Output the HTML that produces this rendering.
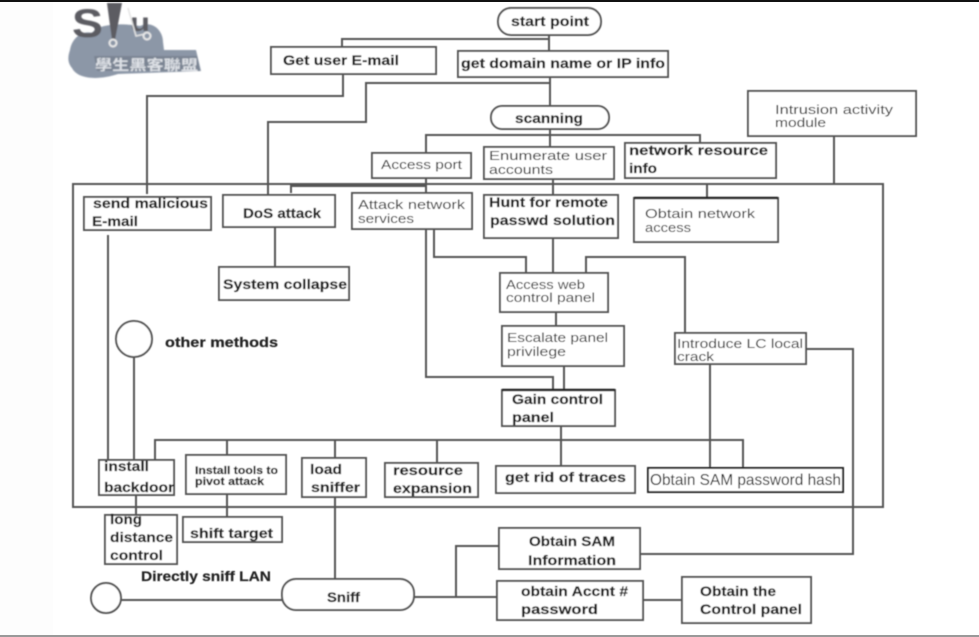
<!DOCTYPE html>
<html>
<head>
<meta charset="utf-8">
<style>
html,body{margin:0;padding:0;background:#fff;width:979px;height:637px;overflow:hidden}
svg{display:block}
text{font-family:"Liberation Sans","Noto Sans CJK SC",sans-serif;fill:#222}
.b{font-weight:bold;font-size:14px;stroke:#222;stroke-width:.2}
.n{font-size:13px;fill:#333}
.box{fill:#fff;stroke:#555;stroke-width:2}
.l{fill:none;stroke:#555;stroke-width:2}
</style>
</head>
<body>
<svg width="979" height="637" viewBox="0 0 979 637" xmlns="http://www.w3.org/2000/svg">
<defs><filter id="s" filterUnits="userSpaceOnUse" x="0" y="0" width="979" height="637"><feGaussianBlur stdDeviation="0.45"/></filter>
<filter id="s2" filterUnits="userSpaceOnUse" x="0" y="0" width="979" height="637"><feGaussianBlur stdDeviation="0.7"/></filter></defs>
<rect x="0" y="0" width="979" height="637" fill="#fff"/>
<rect x="0" y="0" width="53" height="637" fill="#fdfdfd"/>
<!-- logo -->
<g filter="url(#s2)">
<path d="M70 50 C72 38 82 30 92 33 C100 22 128 24 140 26 C152 20 163 30 163 42 L164 50 L196 50 L201 71 L118 74 C100 80 78 80 72 68 C67 62 68 56 70 50Z" fill="#8c97a7"/>
<path d="M94 56 h103 l3 15 h-103z" fill="#7a8493"/>
<text x="95" y="70" font-size="14" font-weight="bold" style="fill:#dfe2e7" textLength="103" lengthAdjust="spacingAndGlyphs">學生黑客聯盟</text>
<text x="72" y="37" font-size="40" font-weight="bold" style="fill:#5c5c62" textLength="31" lengthAdjust="spacingAndGlyphs">S</text>
<path d="M107 3 L122 3 L115 40 L112 40Z" fill="#5c5c62"/>
<circle cx="113" cy="43" r="3.5" fill="#8c97a7" stroke="#e8e8e8" stroke-width="2"/>
<text x="130" y="31" font-size="26" font-weight="bold" style="fill:#5c5c62" textLength="20" lengthAdjust="spacingAndGlyphs">u</text>
<path d="M128 8 L136 36 L145 34" fill="none" stroke="#e4e4e4" stroke-width="1.5"/>
<circle cx="147" cy="36" r="3.5" fill="#8c97a7" stroke="#e8e8e8" stroke-width="2"/>
</g>
<g filter="url(#s)">
<!-- frame -->
<rect x="73" y="184" width="810" height="323" fill="none" stroke="#555" stroke-width="2"/>

<!-- connectors -->
<path class="l" d="M549 35V51M342 47V39H549"/>
<path class="l" d="M343 74V96H147V194"/>
<path class="l" d="M550 77V106M550 83H366V122H268V195"/>
<path class="l" d="M550 129V147M426 153V135H700V143"/>
<path class="l" d="M426 178V193M291 193V186H426"/>
<path class="l" d="M553 179V195M707 183V198M834 136V184"/>
<path class="l" d="M108 235V460M275 227V267"/>
<path class="l" d="M426 229V377H553V390"/>
<path class="l" d="M434 229V257H526V273M553 238V273M586 273V257H685V333"/>
<path class="l" d="M556 312V326M564 366V390M561 426V466"/>
<path class="l" d="M155 460V440H743V468M227 440V455M227 494V517M335 440V458M437 440V463"/>
<path class="l" d="M710 364V468M806 349H853V554H640"/>
<path class="l" d="M136 495V515M134 357V460M335 497V579"/>
<path class="l" d="M414 597H497M456 597V546H499M643 600H682M121 600H282"/>

<!-- nodes -->
<rect class="box" x="498" y="8" width="103" height="27" rx="13"/>
<rect class="box" x="271" y="47" width="165" height="27"/>
<rect class="box" x="458" y="51" width="210" height="26"/>
<rect class="box" x="491" y="106" width="118" height="23" rx="11"/>
<rect class="box" x="748" y="91" width="168" height="45"/>
<rect class="box" x="372" y="153" width="99" height="25"/>
<rect class="box" x="484" y="147" width="130" height="32"/>
<rect class="box" x="625" y="143" width="151" height="35"/>
<rect class="box" x="84" y="197" width="127" height="33"/>
<rect class="box" x="223" y="195" width="112" height="32"/>
<rect class="box" x="352" y="193" width="120" height="36"/>
<rect class="box" x="484" y="195" width="134" height="43"/>
<rect class="box" x="634" y="198" width="144" height="44"/>
<path d="M634 198H778" stroke="#222" stroke-width="2.5" fill="none"/>
<rect class="box" x="219" y="267" width="130" height="33"/>
<rect class="box" x="500" y="273" width="108" height="39"/>
<rect class="box" x="502" y="326" width="122" height="40"/>
<rect class="box" x="502" y="390" width="113" height="36"/>
<path d="M502 390H615" stroke="#222" stroke-width="2.5" fill="none"/>
<rect class="box" x="675" y="333" width="131" height="31"/>
<circle class="box" cx="134" cy="339" r="18"/>
<rect class="box" x="99" y="460" width="75" height="35"/>
<rect class="box" x="186" y="455" width="100" height="39"/>
<rect class="box" x="302" y="458" width="64" height="39"/>
<rect class="box" x="385" y="463" width="93" height="34"/>
<rect class="box" x="496" y="466" width="139" height="27"/>
<rect x="648" y="468" width="195" height="24" fill="#fff" stroke="#222" stroke-width="2"/>
<rect class="box" x="105" y="515" width="72" height="49"/>
<rect class="box" x="183" y="517" width="99" height="25"/>
<rect class="box" x="499" y="528" width="141" height="41"/>
<rect class="box" x="497" y="581" width="146" height="39"/>
<rect class="box" x="682" y="577" width="129" height="46"/>
<rect class="box" x="282" y="579" width="132" height="31" rx="14"/>
<circle class="box" cx="106" cy="598" r="15"/>
<path class="l" d="M335 497V512"/>

<!-- labels -->
<text class="b" x="511" y="26" textLength="78" lengthAdjust="spacingAndGlyphs">start point</text>
<text class="b" x="283" y="65" textLength="116" lengthAdjust="spacingAndGlyphs">Get user E-mail</text>
<text class="b" x="461" y="68" textLength="204" lengthAdjust="spacingAndGlyphs">get domain name or IP info</text>
<text class="b" x="515" y="123" textLength="68" lengthAdjust="spacingAndGlyphs">scanning</text>
<text class="n" x="775" y="114" textLength="118" lengthAdjust="spacingAndGlyphs">Intrusion activity</text>
<text class="n" x="775" y="127" textLength="51" lengthAdjust="spacingAndGlyphs">module</text>
<text class="n" x="381" y="169" textLength="81" lengthAdjust="spacingAndGlyphs">Access port</text>
<text class="n" x="489" y="160" textLength="118" lengthAdjust="spacingAndGlyphs">Enumerate user</text>
<text class="n" x="489" y="174" textLength="64" lengthAdjust="spacingAndGlyphs">accounts</text>
<text class="b" x="629" y="155" textLength="139" lengthAdjust="spacingAndGlyphs">network resource</text>
<text class="b" x="629" y="173" textLength="28" lengthAdjust="spacingAndGlyphs">info</text>
<text class="b" x="93" y="208" textLength="115" lengthAdjust="spacingAndGlyphs">send malicious</text>
<text class="b" x="92" y="226" textLength="46" lengthAdjust="spacingAndGlyphs">E-mail</text>
<text class="b" x="243" y="218" textLength="78" lengthAdjust="spacingAndGlyphs">DoS attack</text>
<text class="n" x="358" y="209" textLength="107" lengthAdjust="spacingAndGlyphs">Attack network</text>
<text class="n" x="358" y="223" textLength="56" lengthAdjust="spacingAndGlyphs">services</text>
<text class="b" x="489" y="207" textLength="119" lengthAdjust="spacingAndGlyphs">Hunt for remote</text>
<text class="b" x="490" y="225" textLength="125" lengthAdjust="spacingAndGlyphs">passwd solution</text>
<text class="n" x="645" y="218" textLength="110" lengthAdjust="spacingAndGlyphs">Obtain network</text>
<text class="n" x="645" y="232" textLength="46" lengthAdjust="spacingAndGlyphs">access</text>
<text class="b" x="223" y="289" textLength="124" lengthAdjust="spacingAndGlyphs">System collapse</text>
<text class="n" x="506" y="289" textLength="79" lengthAdjust="spacingAndGlyphs">Access web</text>
<text class="n" x="506" y="302" textLength="89" lengthAdjust="spacingAndGlyphs">control panel</text>
<text class="n" x="507" y="342" textLength="101" lengthAdjust="spacingAndGlyphs">Escalate panel</text>
<text class="n" x="507" y="356" textLength="59" lengthAdjust="spacingAndGlyphs">privilege</text>
<text class="b" x="512" y="404" textLength="91" lengthAdjust="spacingAndGlyphs">Gain control</text>
<text class="b" x="512" y="422" textLength="42" lengthAdjust="spacingAndGlyphs">panel</text>
<text class="n" x="677" y="348" textLength="126" lengthAdjust="spacingAndGlyphs">Introduce LC local</text>
<text class="n" x="677" y="361" textLength="37" lengthAdjust="spacingAndGlyphs">crack</text>
<text class="b" x="165" y="347" textLength="113" lengthAdjust="spacingAndGlyphs">other methods</text>
<text class="b" x="104" y="471" textLength="45" lengthAdjust="spacingAndGlyphs">install</text>
<text class="b" x="104" y="492" textLength="70" lengthAdjust="spacingAndGlyphs">backdoor</text>
<text class="b" x="195" y="474" style="font-size:11px" textLength="83" lengthAdjust="spacingAndGlyphs">Install tools to</text>
<text class="b" x="195" y="485" style="font-size:11px" textLength="69" lengthAdjust="spacingAndGlyphs">pivot attack</text>
<text class="b" x="310" y="474" textLength="32" lengthAdjust="spacingAndGlyphs">load</text>
<text class="b" x="311" y="492" textLength="49" lengthAdjust="spacingAndGlyphs">sniffer</text>
<text class="b" x="393" y="475" textLength="70" lengthAdjust="spacingAndGlyphs">resource</text>
<text class="b" x="393" y="493" textLength="79" lengthAdjust="spacingAndGlyphs">expansion</text>
<text class="b" x="505" y="482" textLength="121" lengthAdjust="spacingAndGlyphs">get rid of traces</text>
<text x="650" y="485" font-size="16" style="fill:#222" textLength="191" lengthAdjust="spacingAndGlyphs">Obtain SAM password hash</text>
<text class="b" x="110" y="524" textLength="32" lengthAdjust="spacingAndGlyphs">long</text>
<text class="b" x="110" y="542" textLength="63" lengthAdjust="spacingAndGlyphs">distance</text>
<text class="b" x="110" y="560" textLength="53" lengthAdjust="spacingAndGlyphs">control</text>
<text class="b" x="190" y="538" textLength="83" lengthAdjust="spacingAndGlyphs">shift target</text>
<text class="b" x="141" y="581" textLength="130" lengthAdjust="spacingAndGlyphs">Directly sniff LAN</text>
<text class="b" x="327" y="602" textLength="33" lengthAdjust="spacingAndGlyphs">Sniff</text>
<text class="b" x="529" y="546" textLength="86" lengthAdjust="spacingAndGlyphs">Obtain SAM</text>
<text class="b" x="528" y="565" textLength="88" lengthAdjust="spacingAndGlyphs">Information</text>
<text class="b" x="521" y="596" textLength="107" lengthAdjust="spacingAndGlyphs">obtain Accnt #</text>
<text class="b" x="521" y="614" textLength="77" lengthAdjust="spacingAndGlyphs">password</text>
<text class="b" x="700" y="596" textLength="76" lengthAdjust="spacingAndGlyphs">Obtain the</text>
<text class="b" x="700" y="614" textLength="102" lengthAdjust="spacingAndGlyphs">Control panel</text>
</g>
<rect x="0" y="0" width="979" height="2" fill="#111"/>
<rect x="0" y="635" width="979" height="2" fill="#999"/>
</svg>
</body>
</html>
